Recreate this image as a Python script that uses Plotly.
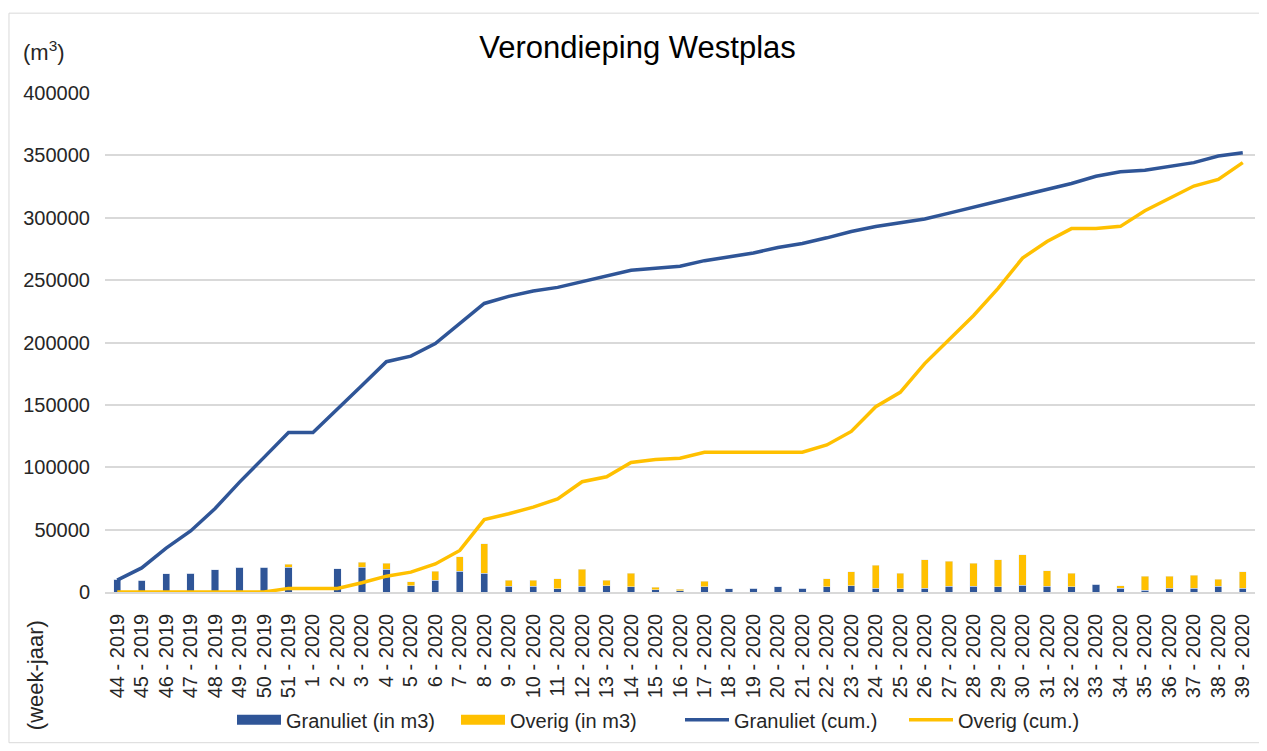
import plotly.graph_objects as go

# weeks (x axis)
weken = ["%d - 2019" % w for w in range(44, 52)] + ["%d - 2020" % w for w in range(1, 40)]

# weekly volumes (m3)
granuliet = [10100, 9600, 14600, 15000, 17800, 19900, 19700, 19700,
             0, 18600, 19700, 18100, 5000, 9600, 16500, 14900,
             4500, 4500, 2700, 4500, 5000, 4300, 1900, 1100, 4300,
             2700, 3200, 4300, 3200, 4300, 5000, 3200, 2700, 3200,
             4500, 4500, 4300, 5300, 4500, 4300, 6100, 3200, 1600,
             3200, 3200, 4500, 3200]
overig = [0, 0, 0, 0, 0, 0, 0, 2600,
          0, 0, 4200, 4800, 3200, 6900, 11700, 23900,
          4800, 4800, 7900, 13600, 4300, 10600, 2100, 1300, 4200,
          0, 0, 0, 0, 6300, 11200, 18300, 12200, 22800,
          20200, 18600, 21700, 24700, 12500, 10600, 0, 1800, 11200,
          9600, 10300, 5600, 13000]

# cumulative lines (m3)
granuliet_cum = [9500, 19300, 35200, 48900, 66900, 88100, 107900, 127800,
                 127800, 146300, 165600, 184600, 189100, 199200, 215000, 231300,
                 237000, 241300, 244200, 249000, 253700, 257900, 259500, 261100, 265600,
                 268500, 271700, 276200, 279400, 283900, 289000, 293000, 295800, 299000,
                 303700, 308500, 313200, 318500, 323300, 327500, 333300, 336800, 338100,
                 341000, 344200, 349500, 352100]
overig_cum = [0, 0, 0, 0, 0, 0, 0, 2900,
              2900, 2900, 7400, 12700, 15900, 22500, 33300, 58000,
              62700, 68000, 74600, 88400, 92400, 103800, 106200, 107300, 112000,
              112000, 112000, 112000, 112000, 117900, 128700, 148500, 160100, 183100,
              202400, 221700, 243400, 267700, 281000, 291300, 291300, 293100, 305600,
              315400, 325400, 330700, 344200]

BLAUW = "#2F5597"
GEEL = "#FFC000"
TXT = "#262626"
FONT = "Liberation Sans, Arial, sans-serif"

fig = go.Figure()
fig.add_trace(go.Bar(x=weken, y=granuliet, name="Granuliet (in m3)", marker_color=BLAUW,
                     legendgroup="g", showlegend=False))
fig.add_trace(go.Bar(x=weken, y=overig, name="Overig (in m3)", marker_color=GEEL,
                     legendgroup="o", showlegend=False))
# legend entries for the bars, drawn as wide blocks like the original
fig.add_trace(go.Scatter(x=[None], y=[None], name="Granuliet (in m3)", mode="lines",
                         legendgroup="g", line=dict(color=BLAUW, width=10)))
fig.add_trace(go.Scatter(x=[None], y=[None], name="Overig (in m3)", mode="lines",
                         legendgroup="o", line=dict(color=GEEL, width=10)))
fig.add_trace(go.Scatter(x=weken, y=granuliet_cum, name="Granuliet (cum.)", mode="lines",
                         line=dict(color=BLAUW, width=3.5)))
fig.add_trace(go.Scatter(x=weken, y=overig_cum, name="Overig (cum.)", mode="lines",
                         line=dict(color=GEEL, width=3.5)))

# the page body adds an 8px offset, so the figure is 8px smaller
fig.update_layout(
    width=1259, height=743,
    margin=dict(l=97, r=12, t=85, b=155),
    paper_bgcolor="white", plot_bgcolor="white",
    font=dict(family=FONT, size=20, color=TXT),
    barmode="stack", bargap=0.7,
    title=dict(text="Verondieping Westplas", x=0.5, xanchor="center",
               y=1 - 39 / 743, yanchor="middle", font=dict(size=31, color="#000000")),
    showlegend=True,
    legend=dict(orientation="h", x=0.5, xanchor="center", y=-0.256, yanchor="middle",
                font=dict(size=20, color=TXT), itemwidth=44, entrywidth=165,
                entrywidthmode="pixels", traceorder="normal"),
    xaxis=dict(type="category", tickangle=-90, showgrid=False, showline=True,
               linecolor="#d9d9d9", linewidth=1.5, ticks="", ticklabelstandoff=12,
               automargin=False, tickfont=dict(size=20, color=TXT),
               range=[-0.5, len(weken) - 0.5]),
    yaxis=dict(range=[0, 400000], dtick=50000, showgrid=True, gridcolor="#d9d9d9",
               gridwidth=1.5, zeroline=False, showline=False, tickformat="d",
               automargin=False, ticklabelstandoff=14, tickfont=dict(size=20, color=TXT)),
    annotations=[
        dict(text="(m<sup>3</sup>)", xref="paper", yref="paper", x=-0.073, y=1.085,
             xanchor="left", yanchor="middle", showarrow=False, font=dict(size=22, color=TXT)),
        dict(text="(week-jaar)", xref="paper", yref="paper", x=-0.061, y=-0.167,
             xanchor="center", yanchor="middle", textangle=-90, showarrow=False,
             font=dict(size=22, color=TXT)),
    ],
    shapes=[dict(type="rect", xref="paper", yref="paper", x0=-0.0835, x1=1.006,
                 y0=-0.302, y1=1.16, line=dict(color="#d9d9d9", width=1))],
)

fig.write_html("out.html")
